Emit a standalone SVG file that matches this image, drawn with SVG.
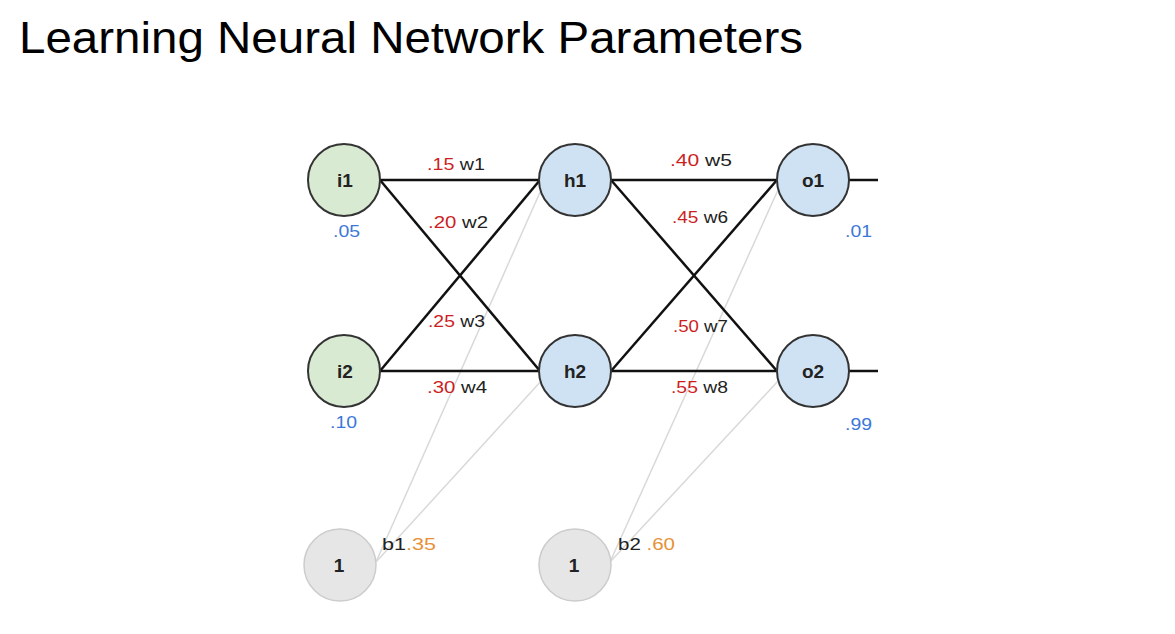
<svg xmlns="http://www.w3.org/2000/svg" width="1175" height="634" viewBox="0 0 1175 634">
<style>
.t{font-family:"Liberation Sans",Arial,sans-serif}
.title{font-size:45px;fill:#000}
.lbl{font-size:16px;fill:#222}
.red{fill:#cc1f1f}
.blu{fill:#3c78d8;font-size:16px}
.org{fill:#e69138}
.nl{font-size:19px;font-weight:bold;fill:#222;text-anchor:middle}
.edge{stroke:#111;stroke-width:2.5;fill:none}
.bias{stroke:#d9d9d9;stroke-width:1.5;fill:none}
.in{fill:#d9ead3;stroke:#333;stroke-width:2}
.hid{fill:#cfe2f3;stroke:#333;stroke-width:2}
.one{fill:#e6e6e6;stroke:#cccccc;stroke-width:1.5}
</style>
<rect width="1175" height="634" fill="#fff"/>
<text class="t title" x="19" y="53" textLength="784" lengthAdjust="spacingAndGlyphs">Learning Neural Network Parameters</text>
<g id="connectors">
<line class="bias" x1="376" y1="562" x2="541" y2="190"/>
<line class="bias" x1="376" y1="562" x2="542" y2="380"/>
<line class="bias" x1="610" y1="562" x2="778" y2="190"/>
<line class="bias" x1="610" y1="562" x2="779" y2="380"/>
<line class="edge" x1="380" y1="180" x2="540" y2="180"/>
<line class="edge" x1="380" y1="180" x2="540" y2="371"/>
<line class="edge" x1="380" y1="371" x2="540" y2="180"/>
<line class="edge" x1="380" y1="371" x2="540" y2="371"/>
<line class="edge" x1="611" y1="180" x2="777" y2="180"/>
<line class="edge" x1="611" y1="180" x2="777" y2="371"/>
<line class="edge" x1="611" y1="371" x2="777" y2="180"/>
<line class="edge" x1="611" y1="371" x2="777" y2="371"/>
<line class="edge" x1="849" y1="180" x2="878" y2="180"/>
<line class="edge" x1="849" y1="371" x2="878" y2="371"/>
</g>
<g id="i1"><circle class="in" cx="344" cy="180" r="36"/><text class="t nl" x="345" y="187">i1</text></g>
<g id="i2"><circle class="in" cx="344" cy="371" r="36"/><text class="t nl" x="345" y="378">i2</text></g>
<g id="h1"><circle class="hid" cx="575" cy="180" r="36"/><text class="t nl" x="575" y="187">h1</text></g>
<g id="h2"><circle class="hid" cx="575" cy="371" r="36"/><text class="t nl" x="575" y="378">h2</text></g>
<g id="o1"><circle class="hid" cx="813" cy="180" r="36"/><text class="t nl" x="813" y="187">o1</text></g>
<g id="o2"><circle class="hid" cx="813" cy="371" r="36"/><text class="t nl" x="813" y="378">o2</text></g>
<g id="b1node"><circle class="one" cx="340" cy="565" r="36"/><text class="t nl" x="339" y="572">1</text></g>
<g id="b2node"><circle class="one" cx="575" cy="565" r="36"/><text class="t nl" x="574" y="572">1</text></g>
<g id="labels">
<text class="t lbl" x="427" y="170" textLength="58" lengthAdjust="spacingAndGlyphs"><tspan class="red">.15</tspan> w1</text>
<text class="t lbl" x="428" y="228" textLength="60" lengthAdjust="spacingAndGlyphs"><tspan class="red">.20</tspan> w2</text>
<text class="t lbl" x="428" y="327" textLength="57" lengthAdjust="spacingAndGlyphs"><tspan class="red">.25</tspan> w3</text>
<text class="t lbl" x="427" y="393" textLength="60" lengthAdjust="spacingAndGlyphs"><tspan class="red">.30</tspan> w4</text>
<text class="t lbl" x="670" y="166" textLength="62" lengthAdjust="spacingAndGlyphs"><tspan class="red">.40</tspan> w5</text>
<text class="t lbl" x="672" y="223" textLength="56" lengthAdjust="spacingAndGlyphs"><tspan class="red">.45</tspan> w6</text>
<text class="t lbl" x="673" y="332" textLength="55" lengthAdjust="spacingAndGlyphs"><tspan class="red">.50</tspan> w7</text>
<text class="t lbl" x="671" y="393" textLength="57" lengthAdjust="spacingAndGlyphs"><tspan class="red">.55</tspan> w8</text>
<text class="t blu" x="333" y="237" textLength="27" lengthAdjust="spacingAndGlyphs">.05</text>
<text class="t blu" x="330" y="428" textLength="27" lengthAdjust="spacingAndGlyphs">.10</text>
<text class="t blu" x="845" y="237" textLength="27" lengthAdjust="spacingAndGlyphs">.01</text>
<text class="t blu" x="845" y="430" textLength="27" lengthAdjust="spacingAndGlyphs">.99</text>
<text class="t lbl" x="382" y="550" textLength="54" lengthAdjust="spacingAndGlyphs">b1<tspan class="org">.35</tspan></text>
<text class="t lbl" x="618" y="550" textLength="57" lengthAdjust="spacingAndGlyphs">b2 <tspan class="org">.60</tspan></text>
</g>
</svg>
